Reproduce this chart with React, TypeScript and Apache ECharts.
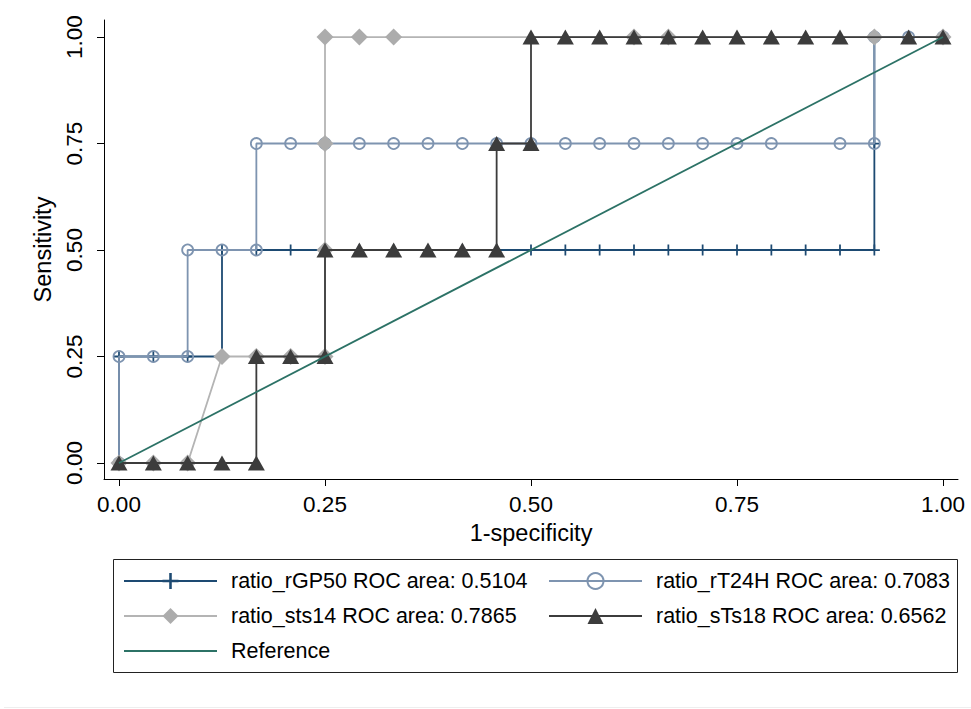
import { useEffect, useRef } from "react";
import * as echarts from "echarts";

// Tick positions shared by both axes
const axisTicks = [0, 0.25, 0.5, 0.75, 1];

// ROC coordinates: 1-specificity (x) and sensitivity (y) for each marker
const rGP50X = [0, 0, 0.0417, 0.0833, 0.125, 0.125, 0.1667, 0.2083, 0.25, 0.2917, 0.3333, 0.375, 0.4167, 0.4583, 0.5, 0.5417, 0.5833, 0.625, 0.6667, 0.7083, 0.75, 0.7917, 0.8333, 0.875, 0.9167, 0.9167, 0.9167, 0.9583, 1];
const rGP50Y = [0, 0.25, 0.25, 0.25, 0.25, 0.5, 0.5, 0.5, 0.5, 0.5, 0.5, 0.5, 0.5, 0.5, 0.5, 0.5, 0.5, 0.5, 0.5, 0.5, 0.5, 0.5, 0.5, 0.5, 0.5, 0.75, 1, 1, 1];

const rT24HX = [0, 0, 0.0417, 0.0833, 0.0833, 0.125, 0.1667, 0.1667, 0.2083, 0.25, 0.2917, 0.3333, 0.375, 0.4167, 0.4583, 0.5, 0.5417, 0.5833, 0.625, 0.6667, 0.7083, 0.75, 0.7917, 0.875, 0.9167, 0.9167, 0.9583, 1];
const rT24HY = [0, 0.25, 0.25, 0.25, 0.5, 0.5, 0.5, 0.75, 0.75, 0.75, 0.75, 0.75, 0.75, 0.75, 0.75, 0.75, 0.75, 0.75, 0.75, 0.75, 0.75, 0.75, 0.75, 0.75, 0.75, 1, 1, 1];

const sts14X = [0, 0.0417, 0.0833, 0.125, 0.1667, 0.2083, 0.25, 0.25, 0.25, 0.25, 0.2917, 0.3333, 0.625, 0.6667, 0.9167, 1];
const sts14Y = [0, 0, 0, 0.25, 0.25, 0.25, 0.25, 0.5, 0.75, 1, 1, 1, 1, 1, 1, 1];

const sTs18X = [0, 0.0417, 0.0833, 0.125, 0.1667, 0.1667, 0.2083, 0.25, 0.25, 0.2917, 0.3333, 0.375, 0.4167, 0.4583, 0.4583, 0.5, 0.5, 0.5417, 0.5833, 0.625, 0.6667, 0.7083, 0.75, 0.7917, 0.8333, 0.875, 0.9583, 1];
const sTs18Y = [0, 0, 0, 0, 0, 0.25, 0.25, 0.25, 0.5, 0.5, 0.5, 0.5, 0.5, 0.5, 0.75, 0.75, 1, 1, 1, 1, 1, 1, 1, 1, 1, 1, 1, 1];

const refX = [0, 1];
const refY = [0, 1];

// Legend labels
const nameGP50 = "ratio_rGP50 ROC area: 0.5104";
const nameT24H = "ratio_rT24H ROC area: 0.7083";
const nameSts14 = "ratio_sts14 ROC area: 0.7865";
const nameSTs18 = "ratio_sTs18 ROC area: 0.6562";
const nameRef = "Reference";

const FONT = "'Liberation Sans', Arial, Helvetica, sans-serif";
const C_NAVY = "#1d4a72";
const C_STEEL = "#7e94b0";
const C_GREY = "#b4b4b4";
const C_DARK = "#3c3c3c";
const C_TEAL = "#2c7266";

const PLUS = "path://M-0.8,-5 L0.8,-5 L0.8,-0.8 L5,-0.8 L5,0.8 L0.8,0.8 L0.8,5 L-0.8,5 L-0.8,0.8 L-5,0.8 L-5,-0.8 L-0.8,-0.8 Z";

const pairs = (xs: number[], ys: number[]) => xs.map((x, i) => [x, ys[i]]);

export default function App() {
  const ref = useRef<HTMLDivElement>(null);

  useEffect(() => {
    if (!ref.current) return;
    const chart = echarts.init(ref.current, null, { renderer: "svg" });

    const legendCommon = {
      orient: "vertical" as const,
      top: 570,
      itemWidth: 93,
      itemHeight: 20,
      itemGap: 13,
      textStyle: { fontFamily: FONT, fontSize: 21.5, color: "#000", lineHeight: 22, padding: [0, 0, 0, 9] },
      padding: 0,
      selectedMode: false,
    };

    chart.setOption({
      animation: false,
      backgroundColor: "#fff",
      grid: { left: 104, right: 13, top: 20, bottom: 230, containLabel: false },
      xAxis: {
        type: "value",
        min: -0.0182,
        max: 1.0182,
        name: "1-specificity",
        nameLocation: "middle",
        nameGap: 40,
        nameTextStyle: { fontFamily: FONT, fontSize: 23.5, color: "#000" },
        axisLine: { onZero: false, lineStyle: { color: "#000", width: 1 } },
        axisTick: { customValues: axisTicks, length: 7, lineStyle: { color: "#000" } },
        axisLabel: {
          customValues: axisTicks,
          formatter: (v: number) => v.toFixed(2),
          fontFamily: FONT,
          fontSize: 22.5,
          color: "#000",
          margin: 14,
        },
        splitLine: { show: false },
      },
      yAxis: {
        type: "value",
        min: -0.0376,
        max: 1.04,
        name: "Sensitivity",
        nameLocation: "middle",
        nameGap: 44,
        nameRotate: 90,
        nameTextStyle: { fontFamily: FONT, fontSize: 23.5, color: "#000" },
        axisLine: { onZero: false, lineStyle: { color: "#000", width: 1 } },
        axisTick: { customValues: axisTicks, length: 7, lineStyle: { color: "#000" } },
        axisLabel: {
          customValues: axisTicks,
          formatter: (v: number) => v.toFixed(2),
          fontFamily: FONT,
          fontSize: 22.5,
          color: "#000",
          rotate: 90,
          margin: 18,
        },
        splitLine: { show: false },
      },
      legend: [
        {
          ...legendCommon,
          left: 123,
          data: [nameGP50, nameSts14, { name: nameRef, itemStyle: { opacity: 0 } }],
        },
        { ...legendCommon, left: 548, data: [nameT24H, nameSTs18] },
      ],
      graphic: [
        {
          type: "rect",
          shape: { x: 113.5, y: 559.5, width: 844, height: 113 },
          style: { fill: "none", stroke: "#222", lineWidth: 1 },
          z: -1,
        },
        {
          type: "line",
          shape: { x1: 4, y1: 707.5, x2: 971, y2: 707.5 },
          style: { stroke: "#eeeeee", lineWidth: 1 },
          z: -1,
        },
      ],
      series: [
        {
          name: nameGP50,
          type: "line",
          data: pairs(rGP50X, rGP50Y),
          z: 2,
          symbol: PLUS,
          symbolSize: 11,
          lineStyle: { color: C_NAVY, width: 1.8 },
          itemStyle: { color: C_NAVY },
        },
        {
          name: nameT24H,
          type: "line",
          data: pairs(rT24HX, rT24HY),
          z: 3,
          symbol: "circle",
          symbolSize: 11,
          lineStyle: { color: C_STEEL, width: 1.8 },
          itemStyle: { color: "rgba(255,255,255,0)", borderColor: C_STEEL, borderWidth: 1.8 },
        },
        {
          name: nameSts14,
          type: "line",
          data: pairs(sts14X, sts14Y),
          z: 4,
          symbol: "diamond",
          symbolSize: 17,
          lineStyle: { color: C_GREY, width: 1.8 },
          itemStyle: { color: "#acacac" },
        },
        {
          name: nameSTs18,
          type: "line",
          data: pairs(sTs18X, sTs18Y),
          z: 5,
          symbol: "triangle",
          symbolSize: [17, 15],
          lineStyle: { color: C_DARK, width: 1.8 },
          itemStyle: { color: C_DARK },
        },
        {
          name: nameRef,
          type: "line",
          data: pairs(refX, refY),
          z: 6,
          symbol: "none",
          lineStyle: { color: C_TEAL, width: 1.8 },
          itemStyle: { color: C_TEAL },
        },
      ],
    });

    return () => chart.dispose();
  }, []);

  return (
    <div
      ref={ref}
      style={{ position: "absolute", left: 0, top: 0, width: 971, height: 709, background: "#fff" }}
    />
  );
}
